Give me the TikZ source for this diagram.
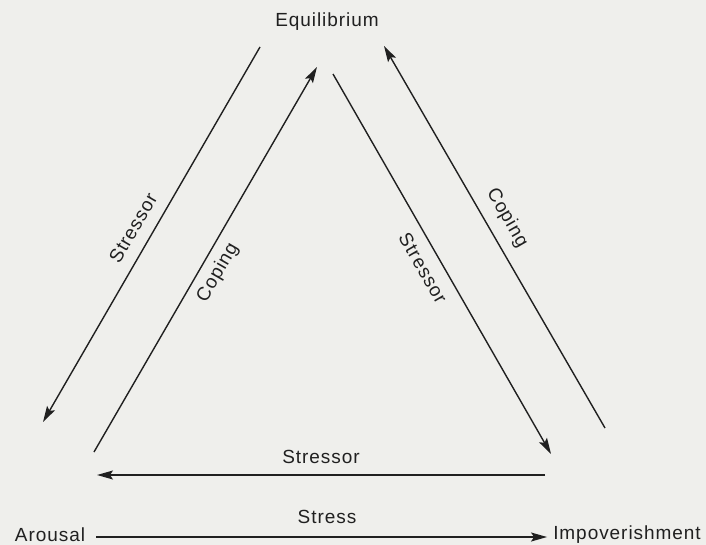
\documentclass[tikz,border=0pt]{standalone}
\usepackage{fontspec}
\setmainfont{Liberation Sans}[LetterSpace=5]
\usetikzlibrary{arrows.meta}
\definecolor{paper}{RGB}{239,239,236}
\definecolor{ink}{RGB}{32,32,32}
\begin{document}
\begin{tikzpicture}[x=1pt,y=-1pt,
  lbl/.style={inner sep=0pt, text=ink, font=\fontsize{19}{22}\selectfont},
  conn/.style={draw=ink, line width=1.4pt},
  arr/.style={conn, -{Stealth[length=16pt,width=9pt,inset=3pt]}}]
\fill[paper] (0,0) rectangle (706,545);
\useasboundingbox (0,0) rectangle (706,545);
% main labels
\node[lbl] (eq) at (327,22) {Equilibrium};
\node[lbl] (ar) at (50,535) {Arousal};
\node[lbl] (imp) at (627,535) {Impoverishment};
\node[lbl] (stress) at (327,517) {Stress};
\node[lbl] (stressorb) at (321,457) {Stressor};
% line end points
\coordinate (ls1) at (260,47);
\coordinate (ls2) at (43,422);
\coordinate (lc1) at (94,452);
\coordinate (lc2) at (317,67);
\coordinate (rs1) at (333,74);
\coordinate (rs2) at (551,454);
\coordinate (rc1) at (605,428);
\coordinate (rc2) at (384,46);
\coordinate (b1) at (545,475);
\coordinate (b2) at (97,475);
% connectors
\draw[arr] (ls1) -- (ls2);
\draw[arr] (lc1) -- (lc2);
\draw[arr] (rs1) -- (rs2);
\draw[arr] (rc1) -- (rc2);
\draw[arr] (b1) -- (b2);
\draw[arr, shorten <=11pt, shorten >=6pt] ([yshift=-2pt]ar.east) -- ([yshift=-2pt]imp.west);
% sloped labels
\node[lbl, rotate=60] (lst) at (133,228) {Stressor};
\node[lbl, rotate=60] (lco) at (218,273) {Coping};
\node[lbl, rotate=-60] (rst) at (423,268) {Stressor};
\node[lbl, rotate=-60] (rco) at (507,218) {Coping};
\end{tikzpicture}
\end{document}
